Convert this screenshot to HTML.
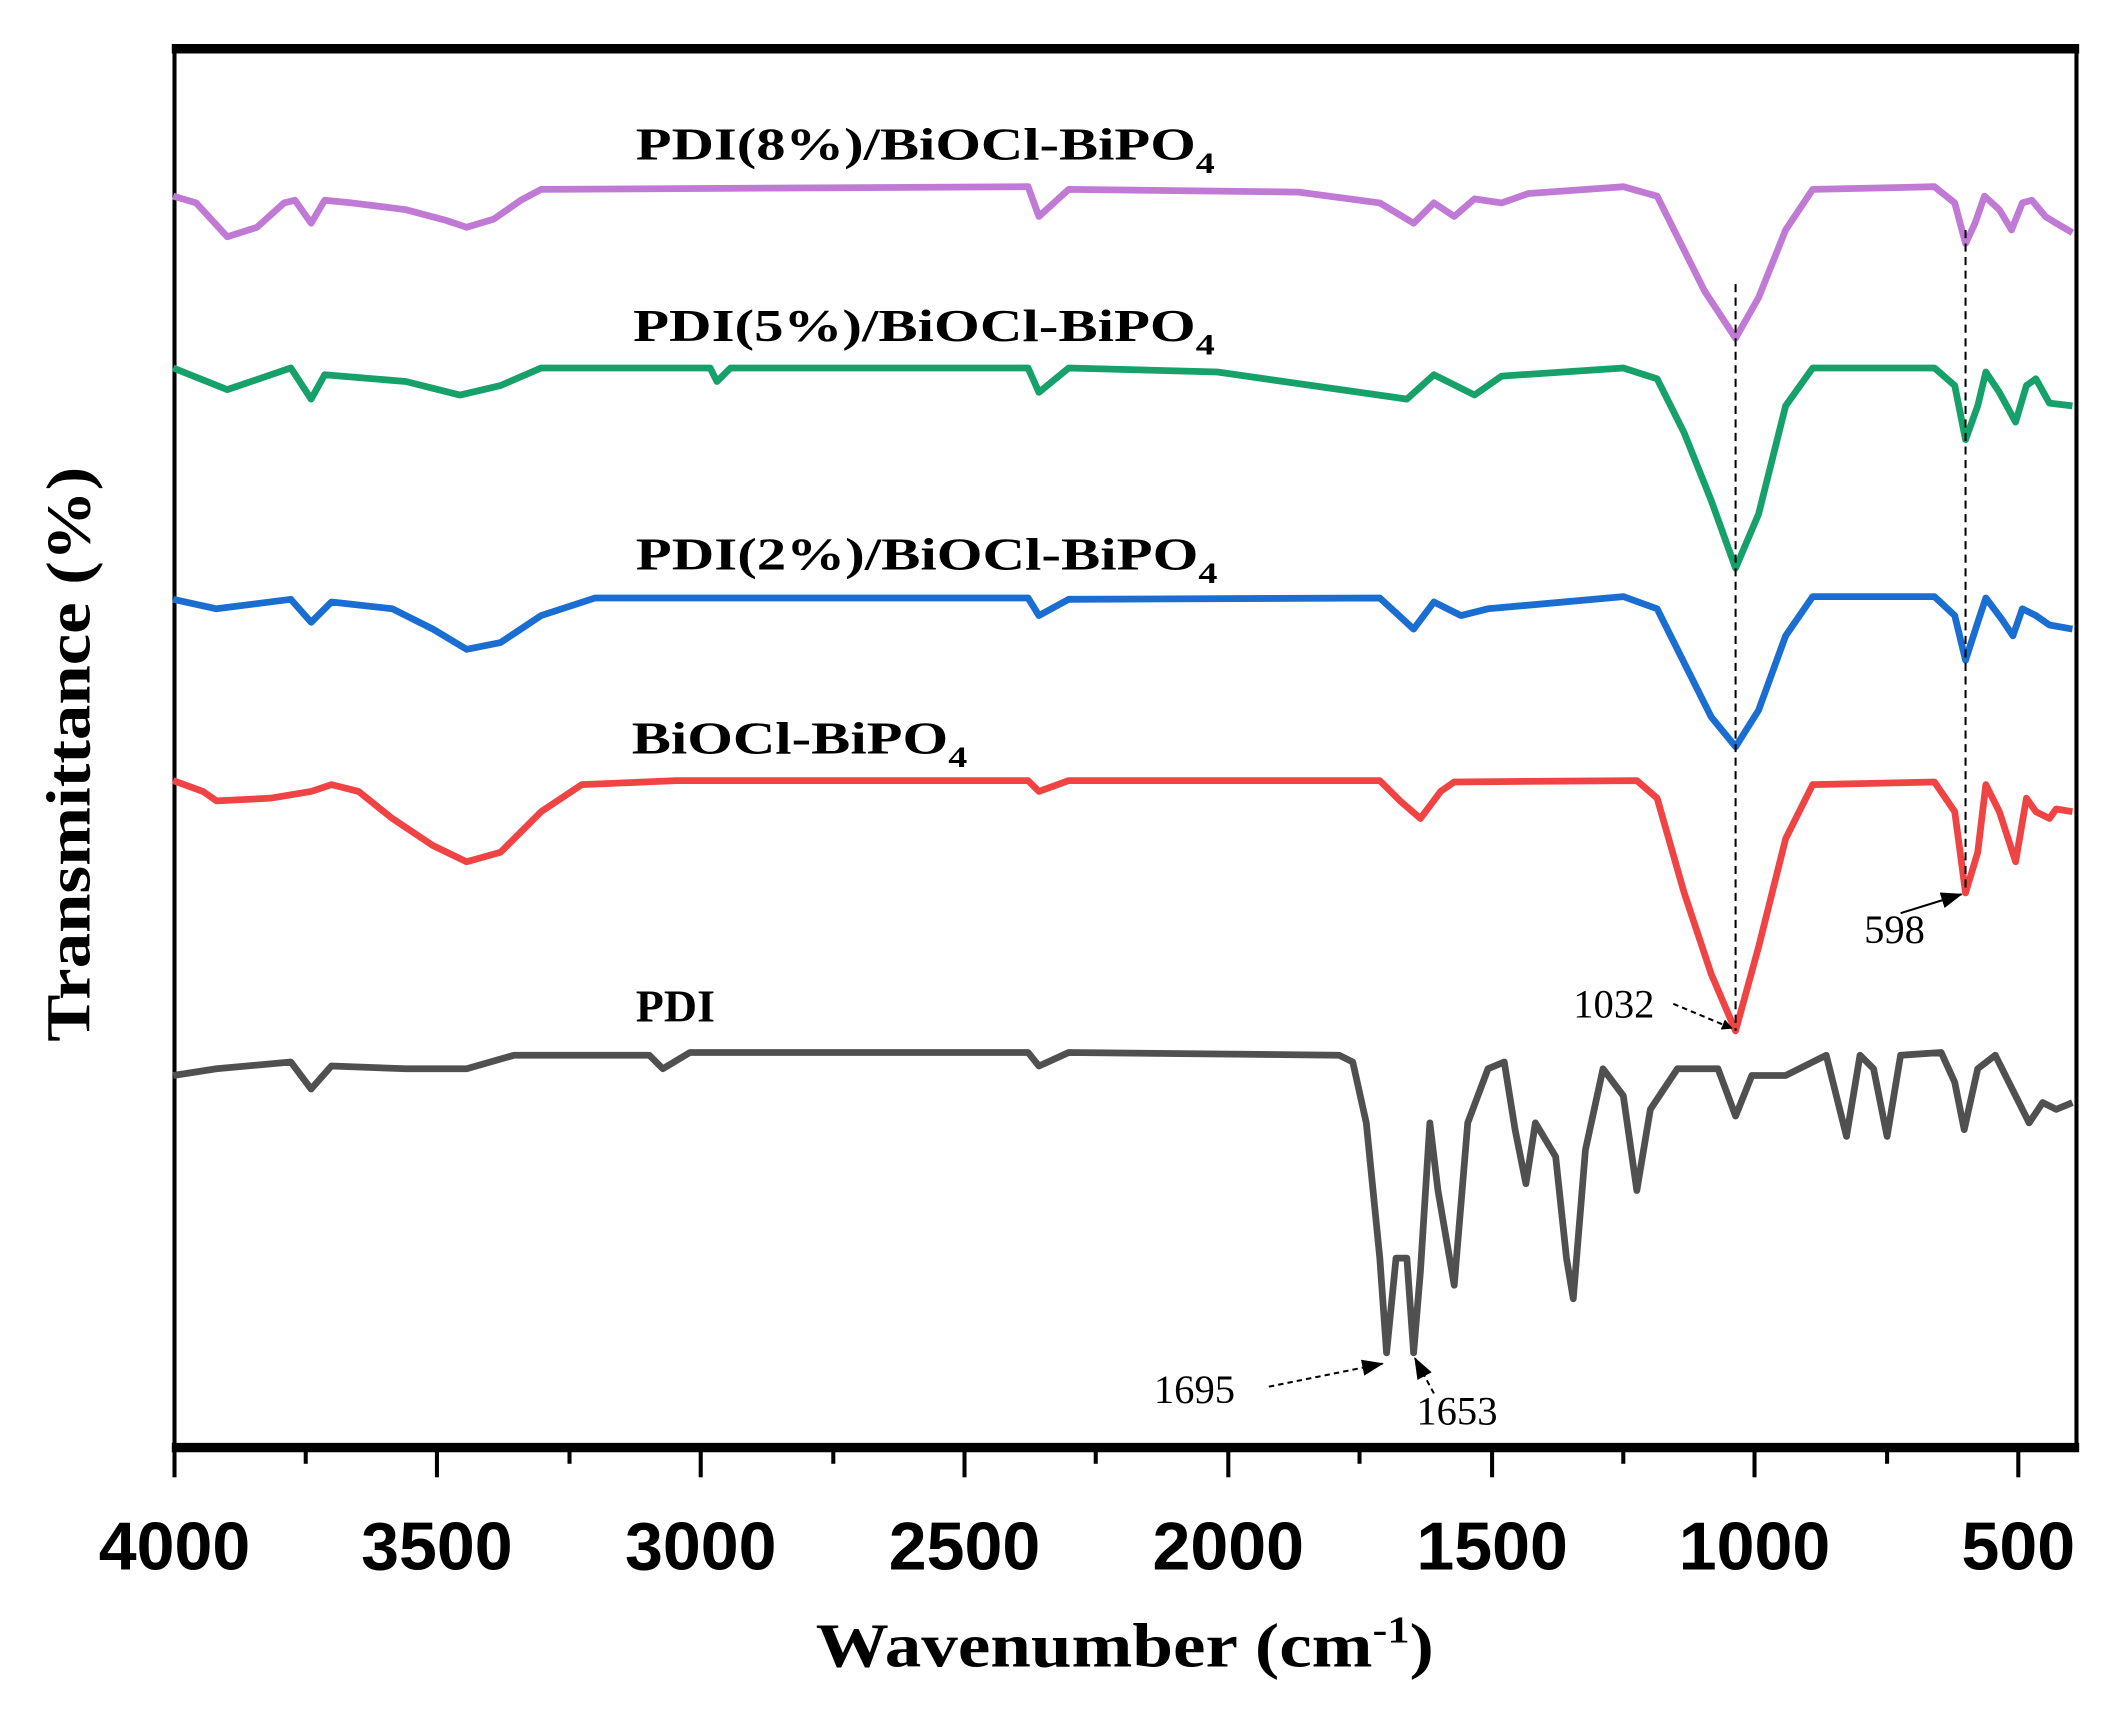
<!DOCTYPE html>
<html><head><meta charset="utf-8"><style>
html,body{margin:0;padding:0;background:#fff;}
svg{display:block;}
.lab{font-family:"Liberation Serif",serif;font-weight:bold;font-size:34px;fill:#000;}
.tick{font-family:"Liberation Sans",sans-serif;font-weight:bold;font-size:50px;fill:#000;}
.ann{font-family:"Liberation Serif",serif;font-size:30px;fill:#000;}
.s{fill:none;stroke-width:5;stroke-linejoin:round;}
</style></head><body>
<svg width="2113" height="1710" viewBox="0 0 1562 1264" preserveAspectRatio="none" xmlns="http://www.w3.org/2000/svg">
<defs><marker id="ah" markerWidth="8" markerHeight="8" refX="7" refY="4" orient="auto" markerUnits="userSpaceOnUse"><path d="M0,0 L8,4 L0,8 z" fill="#000"/></marker>
<marker id="ah2" markerWidth="16" markerHeight="12" refX="15" refY="6" orient="auto" markerUnits="userSpaceOnUse"><path d="M0,0 L16,6 L0,12 z" fill="#000"/></marker></defs>
<rect x="129" y="36" width="1406" height="1034" fill="none" stroke="#000" stroke-width="3"/>
<line x1="127" y1="36" x2="1537" y2="36" stroke="#000" stroke-width="7"/>
<line x1="127" y1="1070" x2="1537" y2="1070" stroke="#000" stroke-width="7"/>
<g stroke="#000" stroke-width="3">
<line x1="129" y1="1070" x2="129" y2="1092"/><line x1="226" y1="1070" x2="226" y2="1082"/>
<line x1="323" y1="1070" x2="323" y2="1092"/><line x1="421" y1="1070" x2="421" y2="1082"/>
<line x1="518" y1="1070" x2="518" y2="1092"/><line x1="616" y1="1070" x2="616" y2="1082"/>
<line x1="713" y1="1070" x2="713" y2="1092"/><line x1="810" y1="1070" x2="810" y2="1082"/>
<line x1="908" y1="1070" x2="908" y2="1092"/><line x1="1005" y1="1070" x2="1005" y2="1082"/>
<line x1="1103" y1="1070" x2="1103" y2="1092"/><line x1="1200" y1="1070" x2="1200" y2="1082"/>
<line x1="1297" y1="1070" x2="1297" y2="1092"/><line x1="1395" y1="1070" x2="1395" y2="1082"/>
<line x1="1492" y1="1070" x2="1492" y2="1092"/>
</g>
<g class="tick" text-anchor="middle">
<text x="129" y="1160" textLength="112" lengthAdjust="spacingAndGlyphs">4000</text>
<text x="323" y="1160" textLength="112" lengthAdjust="spacingAndGlyphs">3500</text>
<text x="518" y="1160" textLength="112" lengthAdjust="spacingAndGlyphs">3000</text>
<text x="713" y="1160" textLength="112" lengthAdjust="spacingAndGlyphs">2500</text>
<text x="908" y="1160" textLength="112" lengthAdjust="spacingAndGlyphs">2000</text>
<text x="1103" y="1160" textLength="112" lengthAdjust="spacingAndGlyphs">1500</text>
<text x="1297" y="1160" textLength="112" lengthAdjust="spacingAndGlyphs">1000</text>
<text x="1492" y="1160" textLength="84" lengthAdjust="spacingAndGlyphs">500</text>
</g>
<text class="lab" style="font-size:46px" x="603" y="1232" textLength="457" lengthAdjust="spacingAndGlyphs">Wavenumber (cm<tspan dy="-18" style="font-size:28px">-1</tspan><tspan dy="18">)</tspan></text>
<text class="lab" style="font-size:46px" transform="translate(66,770) rotate(-90)" textLength="425" lengthAdjust="spacingAndGlyphs">Transmittance (%)</text>
<path class="s" stroke="#c07ad6" d="M128,145 L145,150 L168,175 L190,168 L210,150 L218,148 L230,165 L240,148 L260,150 L300,155 L330,163 L345,168 L365,162 L385,148 L400,140 L760,138 L768,160 L790,140 L960,142 L1020,150 L1045,165 L1060,150 L1075,160 L1090,147 L1110,150 L1130,143 L1200,138 L1225,145 L1240,175 L1260,215 L1283,250 L1300,220 L1320,170 L1340,140 L1430,138 L1445,150 L1453,180 L1460,165 L1467,145 L1478,155 L1487,170 L1495,150 L1502,148 L1512,160 L1520,165 L1532,172"/>
<path class="s" stroke="#16a06a" d="M128,272 L168,288 L215,272 L230,295 L240,277 L300,282 L340,292 L370,285 L400,272 L525,272 L530,282 L540,272 L760,272 L768,290 L790,272 L900,275 L1040,295 L1060,277 L1090,292 L1110,278 L1200,272 L1225,280 L1245,320 L1265,370 L1283,420 L1300,380 L1320,300 L1340,272 L1430,272 L1445,285 L1453,325 L1462,300 L1468,275 L1478,290 L1490,312 L1498,285 L1505,280 L1515,298 L1532,300"/>
<path class="s" stroke="#1a6ed1" d="M128,443 L160,450 L215,443 L230,460 L245,445 L290,450 L320,465 L345,480 L370,475 L400,455 L440,442 L760,442 L768,455 L790,443 L1020,442 L1045,465 L1060,445 L1080,455 L1100,450 L1200,441 L1225,450 L1245,490 L1265,530 L1283,552 L1300,525 L1320,470 L1340,441 L1430,441 L1445,455 L1453,488 L1462,460 L1468,442 L1480,458 L1488,470 L1495,450 L1505,455 L1515,462 L1532,465"/>
<path class="s" stroke="#f04444" d="M128,577 L150,585 L160,592 L200,590 L230,585 L245,580 L265,585 L290,605 L320,625 L345,637 L370,630 L400,600 L430,580 L500,577 L760,577 L768,585 L790,577 L1020,577 L1035,592 L1050,605 L1065,585 L1075,578 L1210,577 L1225,590 L1245,660 L1265,720 L1283,762 L1300,700 L1320,620 L1340,580 L1430,578 L1445,600 L1453,660 L1462,630 L1468,580 L1478,600 L1490,637 L1498,590 L1505,600 L1515,605 L1520,598 L1532,600"/>
<path class="s" stroke="#505050" d="M128,795 L160,790 L215,785 L230,805 L245,788 L300,790 L345,790 L380,780 L480,780 L490,790 L510,778 L760,778 L768,788 L790,778 L990,780 L1000,785 L1010,830 L1020,930 L1025,1000 L1032,930 L1040,930 L1045,1000 L1050,940 L1057,830 L1063,880 L1075,950 L1085,830 L1100,790 L1112,785 L1120,835 L1128,875 L1135,830 L1150,855 L1158,930 L1163,960 L1172,850 L1185,790 L1200,810 L1210,880 L1220,820 L1240,790 L1270,790 L1283,825 L1295,795 L1320,795 L1350,780 L1365,840 L1375,780 L1385,790 L1395,840 L1405,780 L1435,778 L1445,800 L1452,835 L1462,790 L1475,780 L1490,810 L1500,830 L1510,815 L1520,820 L1532,815"/>
<line x1="1283" y1="210" x2="1283" y2="762" stroke="#000" stroke-width="1.5" stroke-dasharray="6,4"/>
<line x1="1453" y1="170" x2="1453" y2="660" stroke="#000" stroke-width="1.5" stroke-dasharray="6,4"/>
<text class="ann" x="1163" y="752">1032</text>
<line x1="1237" y1="742" x2="1280" y2="760" stroke="#000" stroke-width="1.5" stroke-dasharray="4,3" marker-end="url(#ah)"/>
<text class="ann" x="1378" y="697">598</text>
<line x1="1405" y1="675" x2="1450" y2="661" stroke="#000" stroke-width="1.5" marker-end="url(#ah2)"/>
<text class="ann" x="853" y="1037">1695</text>
<line x1="938" y1="1025" x2="1022" y2="1008" stroke="#000" stroke-width="1.5" stroke-dasharray="4,3" marker-end="url(#ah2)"/>
<text class="ann" x="1047" y="1053">1653</text>
<line x1="1060" y1="1030" x2="1046" y2="1004" stroke="#000" stroke-width="1.5" stroke-dasharray="4,3" marker-end="url(#ah2)"/>
<text class="lab" x="470" y="118" textLength="428" lengthAdjust="spacingAndGlyphs">PDI(8%)/BiOCl-BiPO<tspan dy="10" style="font-size:22px">4</tspan></text>
<text class="lab" x="468" y="252" textLength="430" lengthAdjust="spacingAndGlyphs">PDI(5%)/BiOCl-BiPO<tspan dy="10" style="font-size:22px">4</tspan></text>
<text class="lab" x="470" y="421" textLength="430" lengthAdjust="spacingAndGlyphs">PDI(2%)/BiOCl-BiPO<tspan dy="10" style="font-size:22px">4</tspan></text>
<text class="lab" x="467" y="557" textLength="248" lengthAdjust="spacingAndGlyphs">BiOCl-BiPO<tspan dy="10" style="font-size:22px">4</tspan></text>
<text class="lab" x="470" y="755">PDI</text>
</svg>
</body></html>
